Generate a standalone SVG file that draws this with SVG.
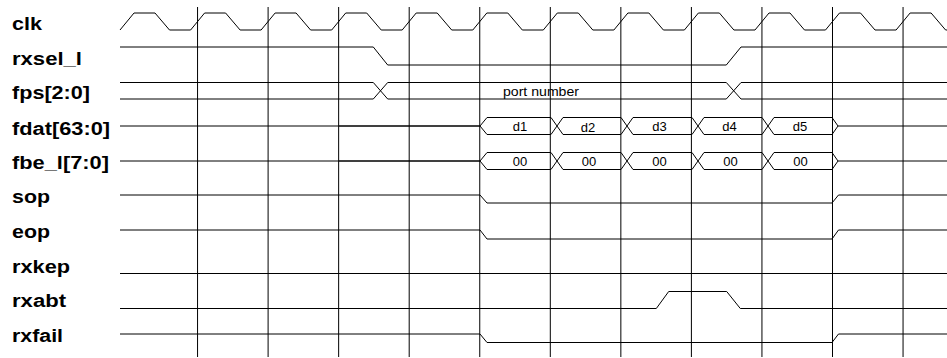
<svg xmlns="http://www.w3.org/2000/svg" width="947" height="358" viewBox="0 0 947 358">
<style>
.lbl{font-family:"Liberation Sans",Arial,sans-serif;font-weight:bold;font-size:18px;fill:#000}
.val{font-family:"Liberation Sans",Arial,sans-serif;font-size:13px;fill:#000}
.sig{fill:none;stroke:#000;stroke-width:1}
.grid{stroke:#000;stroke-width:1}
</style>
<rect width="947" height="358" fill="#fff"/>
<g id="grid">
<line class="grid" x1="197.55" y1="7" x2="197.55" y2="357"/>
<line class="grid" x1="268.1" y1="7" x2="268.1" y2="357"/>
<line class="grid" x1="338.65" y1="7" x2="338.65" y2="357"/>
<line class="grid" x1="409.2" y1="7" x2="409.2" y2="357"/>
<line class="grid" x1="479.75" y1="7" x2="479.75" y2="357"/>
<line class="grid" x1="550.3" y1="7" x2="550.3" y2="357"/>
<line class="grid" x1="620.85" y1="7" x2="620.85" y2="357"/>
<line class="grid" x1="691.4" y1="7" x2="691.4" y2="357"/>
<line class="grid" x1="761.95" y1="7" x2="761.95" y2="357"/>
<line class="grid" x1="832.5" y1="7" x2="832.5" y2="357"/>
<line class="grid" x1="903.05" y1="7" x2="903.05" y2="357"/>
</g>
<g id="labels">
<text class="lbl" x="12" y="30" textLength="30" lengthAdjust="spacingAndGlyphs">clk</text>
<text class="lbl" x="12" y="65" textLength="70" lengthAdjust="spacingAndGlyphs">rxsel_l</text>
<text class="lbl" x="12" y="99" textLength="78" lengthAdjust="spacingAndGlyphs">fps[2:0]</text>
<text class="lbl" x="12" y="134.5" textLength="98" lengthAdjust="spacingAndGlyphs">fdat[63:0]</text>
<text class="lbl" x="12" y="169" textLength="97" lengthAdjust="spacingAndGlyphs">fbe_l[7:0]</text>
<text class="lbl" x="12" y="203" textLength="38" lengthAdjust="spacingAndGlyphs">sop</text>
<text class="lbl" x="12" y="238" textLength="38" lengthAdjust="spacingAndGlyphs">eop</text>
<text class="lbl" x="12" y="272.5" textLength="58" lengthAdjust="spacingAndGlyphs">rxkep</text>
<text class="lbl" x="12" y="307" textLength="54" lengthAdjust="spacingAndGlyphs">rxabt</text>
<text class="lbl" x="12" y="342" textLength="51" lengthAdjust="spacingAndGlyphs">rxfail</text>
</g>
<g id="connectors">
<g id="clk">
<polyline class="sig" points="120,30 134,13 155,13 169.5,30 190.6,30 204.6,13 225.6,13 240.1,30 261.1,30 275.1,13 296.1,13 310.6,30 331.7,30 345.7,13 366.7,13 381.2,30 402.2,30 416.2,13 437.2,13 451.7,30 472.8,30 486.8,13 507.8,13 522.3,30 543.3,30 557.3,13 578.3,13 592.8,30 613.9,30 627.9,13 648.9,13 663.4,30 684.4,30 698.4,13 719.4,13 733.9,30 755,30 769,13 790,13 804.5,30 825.5,30 839.5,13 860.5,13 875,30 896.1,30 910.1,13 931.1,13 945.6,30 947,30"/>
</g>
<g id="rxsel_l">
<polyline class="sig" points="120,47 373.3,47 387.7,65 726.3,65 741,47 947,47"/>
</g>
<g id="fps">
<polyline class="sig" points="120,82.5 373.3,82.5 387.7,99 726.3,99 741,82.5 947,82.5"/>
<polyline class="sig" points="120,99 373.3,99 387.7,82.5 726.3,82.5 741,99 947,99"/>
<text class="val" x="503" y="95.5" textLength="76" lengthAdjust="spacingAndGlyphs">port number</text>
</g>
<g id="fdat">
<line class="sig" x1="120" y1="126" x2="480" y2="126"/>
<line class="sig" x1="339" y1="126" x2="480" y2="126" stroke-width="0.6"/>
<polyline class="sig" points="480,126 487,117.5 551,117.5 563,134.5 621,134.5 633,117.5 692,117.5 704,134.5 762,134.5 774,117.5 832,117.5 838,126 947,126"/>
<polyline class="sig" points="480,126 487,134.5 551,134.5 563,117.5 621,117.5 633,134.5 692,134.5 704,117.5 762,117.5 774,134.5 832,134.5 838,126"/>
<text class="val" x="520" y="131" text-anchor="middle">d1</text>
<text class="val" x="588" y="132" text-anchor="middle">d2</text>
<text class="val" x="659.5" y="131" text-anchor="middle">d3</text>
<text class="val" x="729.5" y="131" text-anchor="middle">d4</text>
<text class="val" x="800" y="131" text-anchor="middle">d5</text>
</g>
<g id="fbe_l">
<line class="sig" x1="120" y1="161" x2="480" y2="161"/>
<line class="sig" x1="339" y1="161" x2="480" y2="161" stroke-width="0.6"/>
<polyline class="sig" points="480,161 487,152.5 551,152.5 563,169.5 621,169.5 633,152.5 692,152.5 704,169.5 762,169.5 774,152.5 832,152.5 838,161 947,161"/>
<polyline class="sig" points="480,161 487,169.5 551,169.5 563,152.5 621,152.5 633,169.5 692,169.5 704,152.5 762,152.5 774,169.5 832,169.5 838,161"/>
<text class="val" x="520" y="165.5" text-anchor="middle">00</text>
<text class="val" x="589" y="165.5" text-anchor="middle">00</text>
<text class="val" x="659.5" y="166" text-anchor="middle">00</text>
<text class="val" x="730.5" y="165.5" text-anchor="middle">00</text>
<text class="val" x="800.5" y="165.5" text-anchor="middle">00</text>
</g>
<g id="sop">
<polyline class="sig" points="120,195 480,195 487,203 832,203 838.5,195 947,195"/>
</g>
<g id="eop">
<polyline class="sig" points="120,230 480,230 487,239 832,239 838.5,230 947,230"/>
</g>
<g id="rxkep">
<line class="sig" x1="120" y1="273.5" x2="947" y2="273.5"/>
</g>
<g id="rxabt">
<polyline class="sig" points="120,308.5 656.3,308.5 668.7,291.5 726.7,291.5 740.3,308.5 947,308.5"/>
</g>
<g id="rxfail">
<polyline class="sig" points="120,334 480,334 487,342.5 832,342.5 838.5,334 947,334"/>
</g>
</g>
</svg>
